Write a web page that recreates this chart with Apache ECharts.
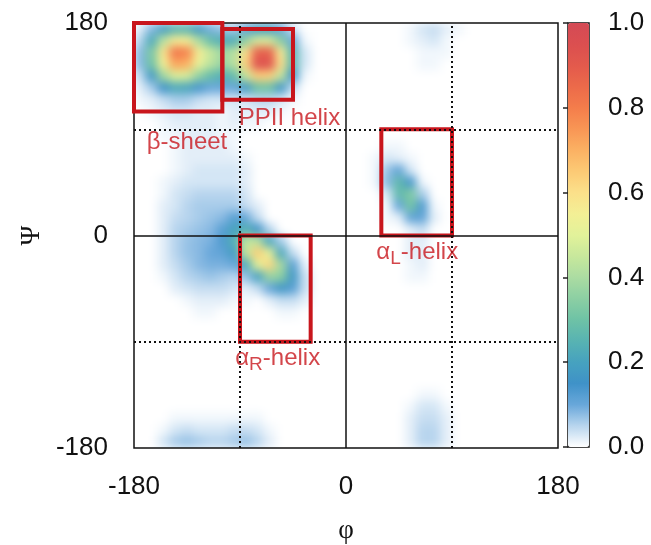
<!DOCTYPE html>
<html><head><meta charset="utf-8">
<script src="https://cdn.jsdelivr.net/npm/echarts@6/dist/echarts.min.js"></script>
<style>
html,body{margin:0;padding:0;background:#fff;}
#wrap{position:relative;width:651px;height:545px;overflow:hidden;}
#heatClip{position:absolute;left:134px;top:23px;width:424px;height:425px;overflow:hidden;}
#heat{position:absolute;left:0;top:0;width:424px;height:425px;filter:blur(5px);}
#main{position:absolute;left:0;top:0;width:651px;height:545px;}
</style></head>
<body><div id="wrap"><div id="heatClip"><div id="heat"></div></div><div id="main"></div></div>
<script>
// ---------- DATA ----------
// phi cell centres (degrees), left to right
const phiCenters = [-175,-165,-155,-145,-135,-125,-115,-105,-95,-85,-75,-65,-55,-45,-35,-25,-15,-5,5,15,25,35,45,55,65,75,85,95,105,115,125,135,145,155,165,175];
// psi cell centres (degrees), top row to bottom row
const psiRowCenters = [175,165,155,145,135,125,115,105,95,85,75,65,55,45,35,25,15,5,-5,-15,-25,-35,-45,-55,-65,-75,-85,-95,-105,-115,-125,-135,-145,-155,-165,-175];

// normalised density, one row per psi cell (phi -175 ... 175)
const dens_p175 = [0.02,0.08,0.18,0.25,0.25,0.17,0.09,0.07,0.06,0.11,0.18,0.18,0.10,0.03,0,0, 0,0,0,0,0,0,0, 0.01,0.03,0.04,0.02,0.01, 0,0,0,0,0,0,0,0];
const dens_p165 = [0.05,0.22,0.42,0.56,0.55,0.40,0.28,0.23,0.23,0.36,0.48,0.48,0.34,0.10,0.01,0, 0,0,0,0,0,0,0, 0.01,0.02,0.03,0.01,0, 0,0,0,0,0,0,0,0];
const dens_p155 = [0.08,0.32,0.58,0.82,0.79,0.56,0.45,0.38,0.42,0.60,0.88,0.88,0.56,0.25,0.03,0, 0,0,0,0,0,0,0,0, 0.01,0.01,0.01,0, 0,0,0,0,0,0,0,0];
const dens_p145 = [0.08,0.30,0.54,0.72,0.70,0.52,0.43,0.37,0.42,0.63,0.94,0.93,0.60,0.26,0.03,0, 0,0,0,0,0,0,0,0, 0.01,0.01,0,0, 0,0,0,0,0,0,0,0];
const dens_p135 = [0.04,0.17,0.38,0.49,0.48,0.36,0.28,0.24,0.28,0.45,0.64,0.63,0.44,0.15,0.01,0, 0,0,0,0,0,0,0,0,0,0,0,0,0,0,0,0,0,0,0,0];
const dens_p125 = [0.02,0.06,0.15,0.22,0.21,0.14,0.10,0.10,0.10,0.17,0.30,0.30,0.16,0.04,0,0, 0,0,0,0,0,0,0,0,0,0,0,0,0,0,0,0,0,0,0,0];
const dens_p115 = [0.01,0.02,0.04,0.06,0.06,0.04,0.03,0.03,0.03,0.03,0.05,0.05,0.03,0.01,0,0, 0,0,0,0,0,0,0,0,0,0,0,0,0,0,0,0,0,0,0,0];
const dens_p105 = [0,0.01,0.02,0.03,0.03,0.02,0.02,0.01,0.02,0.02,0.02,0.02,0.01,0,0,0, 0,0,0,0,0,0,0,0,0,0,0,0,0,0,0,0,0,0,0,0];
const dens_p95  = [0,0,0.01,0.02,0.02,0.02,0.02,0.01,0.02,0.01,0.01,0,0,0,0,0, 0,0,0,0,0,0,0,0,0,0,0,0,0,0,0,0,0,0,0,0];
const dens_p85  = [0,0,0.01,0.01,0.02,0.02,0.02,0.01,0.01,0,0,0,0,0,0,0, 0,0,0,0,0,0,0,0,0,0,0,0,0,0,0,0,0,0,0,0];
const dens_p75  = [0,0,0,0.01,0.02,0.02,0.02,0.02,0.01,0,0,0,0,0,0,0, 0,0,0,0,0, 0.01,0.01, 0,0,0,0,0,0,0,0,0,0,0,0,0];
const dens_p65  = [0,0,0,0.01,0.02,0.02,0.02,0.02,0.02,0.01,0,0,0,0,0,0, 0,0,0,0, 0.01,0.03,0.02,0.01, 0,0,0,0,0,0,0,0,0,0,0,0];
const dens_p55  = [0,0,0,0.01,0.02,0.03,0.03,0.03,0.03,0.02,0,0,0,0,0,0, 0,0,0,0, 0.01,0.07,0.11,0.03, 0,0,0,0,0,0,0,0,0,0,0,0];
const dens_p45  = [0,0,0.01,0.02,0.03,0.03,0.03,0.03,0.03,0.02,0,0,0,0,0,0, 0,0,0,0, 0.01,0.08,0.27,0.14,0.01, 0,0,0,0,0,0,0,0,0,0,0];
const dens_p35  = [0,0,0.01,0.03,0.04,0.05,0.05,0.05,0.05,0.03,0,0,0,0,0,0, 0,0,0,0, 0,0.03,0.27,0.33,0.06, 0,0,0,0,0,0,0,0,0,0,0];
const dens_p25  = [0,0,0.02,0.03,0.05,0.06,0.06,0.06,0.06,0.04,0.02,0,0,0,0,0, 0,0,0,0, 0,0.01,0.10,0.31,0.13,0.01, 0,0,0,0,0,0,0,0,0,0];
const dens_p15  = [0,0,0.02,0.04,0.05,0.06,0.07,0.08,0.12,0.10,0.04,0,0,0,0,0, 0,0,0,0, 0,0.01,0.02,0.11,0.11,0.02, 0,0,0,0,0,0,0,0,0,0];
const dens_p5   = [0,0,0.02,0.05,0.06,0.07,0.08,0.12,0.20,0.24,0.15,0.05,0,0,0,0, 0,0,0,0, 0,0,0,0.02,0.04,0, 0,0,0,0,0,0,0,0,0,0];
const dens_m5   = [0,0,0.02,0.05,0.07,0.08,0.09,0.13,0.24,0.44,0.43,0.21,0.06,0,0,0, 0,0,0,0,0,0,0, 0.02,0.02, 0,0,0,0,0,0,0,0,0,0,0];
const dens_m15  = [0,0,0.02,0.05,0.07,0.08,0.10,0.11,0.18,0.44,0.64,0.51,0.21,0.04,0,0, 0,0,0,0,0,0,0, 0.02,0.02, 0,0,0,0,0,0,0,0,0,0,0];
const dens_m25  = [0,0,0.02,0.04,0.06,0.08,0.09,0.09,0.10,0.22,0.50,0.62,0.39,0.12,0.02,0, 0,0,0,0,0,0,0, 0.01,0.02, 0,0,0,0,0,0,0,0,0,0,0];
const dens_m35  = [0,0,0.01,0.03,0.05,0.06,0.07,0.06,0.05,0.07,0.19,0.37,0.35,0.17,0.04,0, 0,0,0,0,0,0,0, 0.01,0.01, 0,0,0,0,0,0,0,0,0,0,0];
const dens_m45  = [0,0,0,0.02,0.03,0.04,0.04,0.04,0.03,0.02,0.04,0.10,0.16,0.12,0.04,0, 0,0,0,0,0,0,0,0,0,0,0,0,0,0,0,0,0,0,0,0];
const dens_m55  = [0,0,0,0,0.01,0.02,0.02,0.02,0.01,0.01,0,0.02,0.04,0.04,0.02,0, 0,0,0,0,0,0,0,0,0,0,0,0,0,0,0,0,0,0,0,0];
const dens_m65  = [0,0,0,0,0,0.01,0.01,0,0,0,0,0,0.01,0.01,0,0, 0,0,0,0,0,0,0,0,0,0,0,0,0,0,0,0,0,0,0,0];
const dens_m75  = [0,0,0,0,0,0,0,0,0,0,0,0,0,0,0,0, 0,0,0,0,0,0,0,0,0,0,0,0,0,0,0,0,0,0,0,0];
const dens_m85  = [0,0,0,0,0,0,0,0,0,0,0,0,0,0,0,0, 0,0,0,0,0,0,0,0,0,0,0,0,0,0,0,0,0,0,0,0];
const dens_m95  = [0,0,0,0,0,0,0,0,0,0,0,0,0,0,0,0, 0,0,0,0,0,0,0,0,0,0,0,0,0,0,0,0,0,0,0,0];
const dens_m105 = [0,0,0,0,0,0,0,0,0,0,0,0,0,0,0,0, 0,0,0,0,0,0,0,0,0,0,0,0,0,0,0,0,0,0,0,0];
const dens_m115 = [0,0,0,0,0,0,0,0,0,0,0,0,0,0,0,0, 0,0,0,0,0,0,0,0,0,0,0,0,0,0,0,0,0,0,0,0];
const dens_m125 = [0,0,0,0,0,0,0,0,0,0,0,0,0,0,0,0, 0,0,0,0,0,0,0,0,0,0,0,0,0,0,0,0,0,0,0,0];
const dens_m135 = [0,0,0,0,0,0,0,0,0,0,0,0,0,0,0,0, 0,0,0,0,0,0,0,0, 0.01,0.01, 0,0,0,0,0,0,0,0,0,0];
const dens_m145 = [0,0,0,0,0,0,0,0,0,0,0,0,0,0,0,0, 0,0,0,0,0,0,0, 0.01,0.03,0.03,0.01, 0,0,0,0,0,0,0,0,0];
const dens_m155 = [0,0,0,0.01,0.01,0.01,0.01,0.01,0.01,0.01,0.01,0,0,0,0,0, 0,0,0,0,0,0,0, 0.02,0.04,0.04,0.02, 0,0,0,0,0,0,0,0,0];
const dens_m165 = [0,0,0.01,0.03,0.04,0.03,0.03,0.03,0.04,0.04,0.03,0.01,0,0,0,0, 0,0,0,0,0,0,0, 0.02,0.05,0.05,0.02, 0,0,0,0,0,0,0,0,0];
const dens_m175 = [0,0,0.03,0.06,0.07,0.06,0.05,0.05,0.06,0.07,0.05,0.02,0,0,0,0, 0,0,0,0,0,0,0, 0.02,0.05,0.05,0.02, 0,0,0,0,0,0,0,0,0];

const densityRows = [dens_p175,dens_p165,dens_p155,dens_p145,dens_p135,dens_p125,dens_p115,dens_p105,dens_p95,dens_p85,dens_p75,dens_p65,dens_p55,dens_p45,dens_p35,dens_p25,dens_p15,dens_p5,dens_m5,dens_m15,dens_m25,dens_m35,dens_m45,dens_m55,dens_m65,dens_m75,dens_m85,dens_m95,dens_m105,dens_m115,dens_m125,dens_m135,dens_m145,dens_m155,dens_m165,dens_m175];

// tick labels
const angleTicks = [-180, 0, 180];
const colorbarTicks = [0.0, 0.2, 0.4, 0.6, 0.8, 1.0];

// secondary-structure regions (degrees)
const regionNames   = ['β-sheet', 'PPII helix', 'αR-helix', 'αL-helix'];
const regionLabels  = ['β-sheet', 'PPII helix', 'α{sub|R}-helix', 'α{sub|L}-helix'];
const regionPhiMin  = [-180, -105, -90, 30];
const regionPhiMax  = [-105, -45, -30, 90];
const regionPsiMin  = [105, 115, -90, 0];
const regionPsiMax  = [180, 175, 0, 90];
// reference lines
const dottedPhi = [-90, 90];
const dottedPsi = [90, -90];
const solidPhi = [0];
const solidPsi = [0];

// ---------- STYLE / LAYOUT ----------
const FONT = "'Liberation Sans', Arial, Helvetica, sans-serif";
const SERIF = "'Liberation Serif', 'DejaVu Serif', serif";
const RED = '#c8161d';
const INK = '#111';
const COLORS = ['#ffffff','#b8d5ee','#68a7da','#3f92c8','#46a2bf','#58b3b2','#6ec2a6','#8ccfa3','#abdca2','#c8e89c','#e2f29a','#f3ef95','#fbe08a','#fcca75','#fbb163','#f89655','#f47d4b','#ec6a4a','#e35a4c','#db4f50','#d44a55'];
// label anchors for region names (data coordinates)
const regionLabelAt = [[-135, 79], [-48, 99.5], [-58, -104], [60.5, -14.5]];

// ---------- HEATMAP LAYER ----------
const nRows = psiRowCenters.length;
const psiAxisCats = psiRowCenters.slice().reverse();
const heatData = [];
densityRows.forEach((row, j) => {
  row.forEach((v, i) => { if (v > 0) heatData.push([i, nRows - 1 - j, v]); });
});

const heatChart = echarts.init(document.getElementById('heat'), null, {renderer: 'canvas'});
heatChart.setOption({
  animation: false,
  backgroundColor: '#fff',
  grid: {left: 0, right: 0, top: 0, bottom: 0, containLabel: false, outerBoundsMode: 'none'},
  xAxis: {type: 'category', data: phiCenters.map(String), show: false},
  yAxis: {type: 'category', data: psiAxisCats.map(String), show: false},
  visualMap: {type: 'continuous', show: false, min: 0, max: 1, seriesIndex: 0, inRange: {color: COLORS}},
  series: [{type: 'heatmap', data: heatData, progressive: 0, silent: true, emphasis: {disabled: true}}]
});

// ---------- AXES, FRAME, ANNOTATIONS, COLORBAR ----------
const mainChart = echarts.init(document.getElementById('main'), null, {renderer: 'canvas'});
const lineData = [];
dottedPhi.forEach(v => lineData.push({xAxis: v}));
dottedPsi.forEach(v => lineData.push({yAxis: v}));
const solidData = [];
solidPhi.forEach(v => solidData.push({xAxis: v}));
solidPsi.forEach(v => solidData.push({yAxis: v}));
const boxes = regionNames.map((n, k) => [
  {coord: [regionPhiMin[k], regionPsiMax[k]]},
  {coord: [regionPhiMax[k], regionPsiMin[k]]}
]);

mainChart.setOption({
  animation: false,
  backgroundColor: 'transparent',
  textStyle: {fontFamily: FONT},
  grid: [
    {left: 134, top: 23, width: 424, height: 425, show: true, borderColor: INK, borderWidth: 1.5, backgroundColor: 'transparent', containLabel: false, outerBoundsMode: 'none'},
    {left: 568, top: 23, width: 21, height: 424, show: true, borderColor: INK, borderWidth: 1.5, backgroundColor: 'transparent', containLabel: false, outerBoundsMode: 'none'}
  ],
  xAxis: [
    {gridIndex: 0, type: 'value', min: angleTicks[0], max: angleTicks[2], interval: 180,
     name: 'φ', nameLocation: 'middle', nameGap: 69,
     nameTextStyle: {fontSize: 27, fontFamily: SERIF, color: INK},
     axisLine: {show: false}, axisTick: {show: false}, splitLine: {show: false},
     axisLabel: {fontSize: 26, fontFamily: FONT, color: INK, margin: 26, showMinLabel: true, showMaxLabel: true, hideOverlap: false}},
    {gridIndex: 1, type: 'value', min: 0, max: 1, show: false}
  ],
  yAxis: [
    {gridIndex: 0, type: 'value', min: angleTicks[0], max: angleTicks[2], interval: 180,
     name: 'Ψ', nameLocation: 'middle', nameGap: 80,
     nameTextStyle: {fontSize: 27, fontFamily: SERIF, color: INK},
     axisLine: {show: false}, axisTick: {show: false}, splitLine: {show: false},
     axisLabel: {fontSize: 26, fontFamily: FONT, color: INK, margin: 26, showMinLabel: true, showMaxLabel: true, hideOverlap: false}},
    {gridIndex: 1, type: 'value', min: colorbarTicks[0], max: colorbarTicks[colorbarTicks.length - 1], interval: 0.2, position: 'right',
     axisLine: {show: false}, splitLine: {show: false},
     axisTick: {show: true, inside: true, length: 5, lineStyle: {color: '#222', width: 1.5}},
     axisLabel: {fontSize: 26, fontFamily: FONT, color: INK, margin: 19, showMinLabel: true, showMaxLabel: true, hideOverlap: false,
                 formatter: v => Number(v).toFixed(1)}}
  ],
  visualMap: {
    type: 'continuous', show: true, min: 0, max: 1, seriesIndex: [], calculable: false,
    left: 568, top: 23, itemWidth: 21, itemHeight: 424, padding: 0, text: null,
    inRange: {color: COLORS}
  },
  series: [
    {type: 'line', xAxisIndex: 0, yAxisIndex: 0, data: [], silent: true, z: 3,
     markLine: {silent: true, symbol: ['none', 'none'], label: {show: false}, animation: false,
       lineStyle: {color: INK, width: 2, type: [2, 3]}, emphasis: {disabled: true}, data: lineData}},
    {type: 'line', xAxisIndex: 0, yAxisIndex: 0, data: [], silent: true, z: 4,
     markLine: {silent: true, symbol: ['none', 'none'], label: {show: false}, animation: false,
       lineStyle: {color: INK, width: 1.5, type: 'solid'}, emphasis: {disabled: true}, data: solidData}},
    {type: 'line', xAxisIndex: 0, yAxisIndex: 0, data: [], silent: true, clip: false, z: 6,
     markArea: {silent: true, animation: false, label: {show: false},
       itemStyle: {color: 'rgba(0,0,0,0)', borderColor: RED, borderWidth: 4},
       emphasis: {disabled: true}, data: boxes}},
    {type: 'scatter', xAxisIndex: 0, yAxisIndex: 0, symbolSize: 0, silent: true, z: 7,
     data: regionNames.map((n, k) => ({name: n, value: regionLabelAt[k]})),
     label: {show: true, position: 'inside', color: RED, fontSize: 24, fontFamily: FONT,
       formatter: p => regionLabels[p.dataIndex],
       rich: {sub: {fontSize: 19, fontFamily: FONT, color: RED, padding: [12, 0, 0, 0]}}},
     emphasis: {disabled: true}}
  ]
});
</script>
</body></html>
